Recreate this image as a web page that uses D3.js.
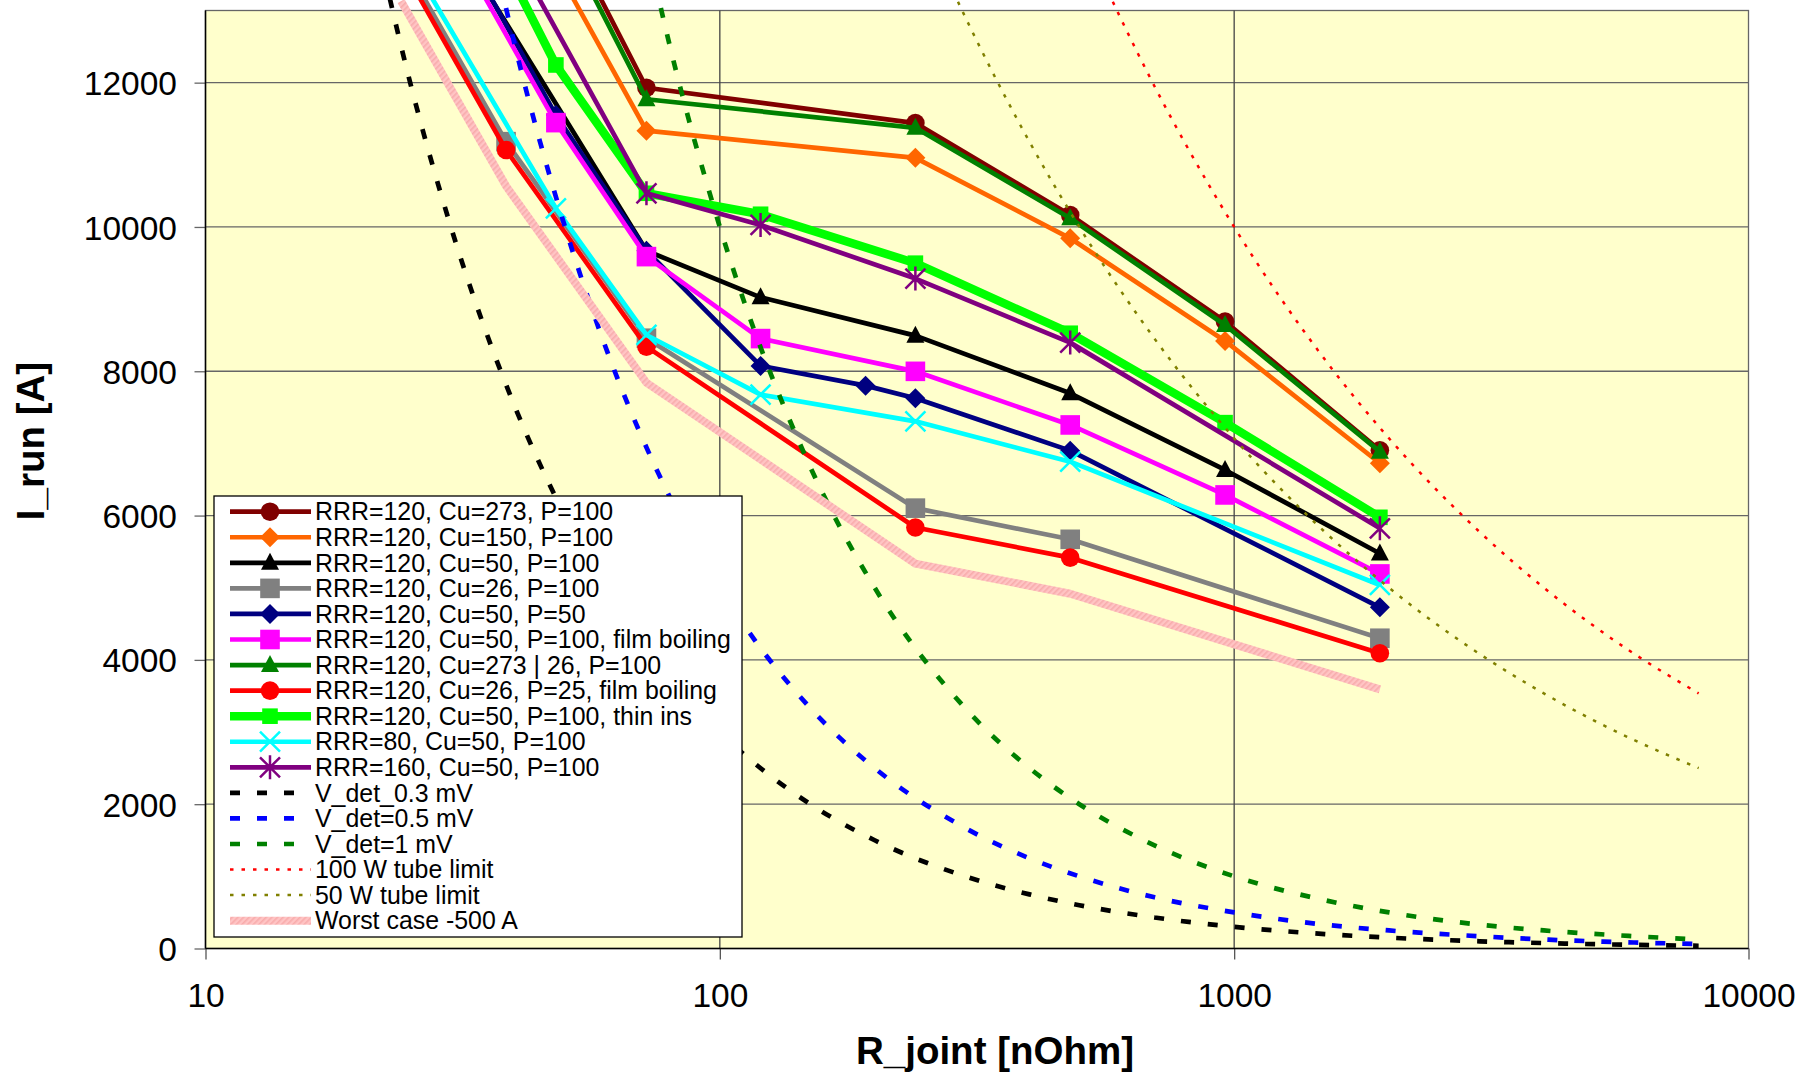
<!DOCTYPE html>
<html>
<head>
<meta charset="utf-8">
<script src="https://d3js.org/d3.v7.min.js"></script>
<style>
  body { margin: 0; background: white; }
  text { font-family: "Liberation Sans", Arial, sans-serif; fill: black; }
</style>
</head>
<body>
<script>
// ticks
const xTicks = [10, 100, 1000, 10000];
const yTicks = [0, 2000, 4000, 6000, 8000, 10000, 12000];

// measured series (R_joint in nOhm, I_run in A) - first point of some is above the top edge
const cu273R = [48, 72, 240, 480, 960, 1920];
const cu273I = [14370, 11930, 11440, 10165, 8690, 6905];
const cu150R = [48, 72, 240, 480, 960, 1920];
const cu150I = [13600, 11335, 10958, 9843, 8420, 6725];
const cu50R = [24, 72, 120, 240, 480, 960, 1920];
const cu50I = [15190, 9670, 9025, 8494, 7695, 6632, 5475];
const cu26R = [24, 38.4, 72, 240, 480, 1920];
const cu26I = [13730, 11182, 8458, 6103, 5671, 4300];
const p50R = [24, 48, 72, 120, 192, 240, 480, 1920];
const p50I = [15430, 11550, 9670, 8074, 7801, 7627, 6900, 4729];
const filmR = [24, 48, 72, 120, 240, 480, 960, 1920];
const filmI = [15240, 11446, 9589, 8453, 7999, 7256, 6286, 5191];
const mixR = [48, 72, 240, 480, 960, 1920];
const mixI = [14220, 11770, 11374, 10120, 8642, 6886];
const p25R = [24, 38.4, 72, 240, 480, 1920];
const p25I = [13630, 11067, 8341, 5835, 5417, 4092];
const thinR = [24, 48, 72, 120, 240, 480, 960, 1920];
const thinI = [16470, 12245, 10467, 10176, 9498, 8527, 7288, 5976];
const rrr80R = [24, 48, 72, 120, 240, 480, 1920];
const rrr80I = [13900, 10259, 8503, 7677, 7306, 6747, 5038];
const rrr160R = [24, 72, 120, 240, 480, 1920];
const rrr160I = [16630, 10467, 10028, 9285, 8397, 5824];
const worstR = [24, 38.4, 72, 240, 480, 1920];
const worstI = [13130, 10567, 7841, 5335, 4917, 3592];

// detection / tube limit curves
const v03R = [20, 25, 30, 40, 50, 60, 80, 100, 150, 200, 300, 400, 500, 700, 1000, 1500, 2000, 3000, 4000, 6000, 8000];
const v03I = [15000, 12000, 10000, 7500, 6000, 5000, 3750, 3000, 2000, 1500, 1000, 750, 600, 430, 300, 200, 150, 100, 75, 50, 38];
const v05R = [30, 40, 50, 60, 80, 100, 150, 200, 300, 400, 500, 700, 1000, 1500, 2000, 3000, 4000, 6000, 8000];
const v05I = [16700, 12500, 10000, 8330, 6250, 5000, 3330, 2500, 1670, 1250, 1000, 710, 500, 330, 250, 170, 125, 83, 63];
const v1R = [60, 80, 100, 150, 200, 300, 400, 500, 700, 1000, 1500, 2000, 3000, 4000, 6000, 8000];
const v1I = [16700, 12500, 10000, 6670, 5000, 3330, 2500, 2000, 1430, 1000, 670, 500, 330, 250, 170, 125];
const w100R = [500, 600, 700, 800, 1000, 1500, 2000, 3000, 4000, 5000, 6000, 8000];
const w100I = [14140, 12910, 11950, 11180, 10000, 8165, 7071, 5774, 5000, 4472, 4082, 3536];
const w50R = [250, 300, 400, 500, 700, 1000, 1500, 2000, 3000, 4000, 5000, 6000, 8000];
const w50I = [14140, 12910, 11180, 10000, 8452, 7071, 5774, 5000, 4082, 3536, 3162, 2887, 2500];

const zip = (a, b) => a.map((v, i) => [v, b[i]]);

const series = [
  {name: "RRR=120, Cu=273, P=100", pts: zip(cu273R, cu273I), color: "#800000", w: 4.7, mark: "circle"},
  {name: "RRR=120, Cu=150, P=100", pts: zip(cu150R, cu150I), color: "#FF6600", w: 4.7, mark: "diamond"},
  {name: "RRR=120, Cu=50, P=100", pts: zip(cu50R, cu50I), color: "#000000", w: 4.7, mark: "triangle"},
  {name: "RRR=120, Cu=26, P=100", pts: zip(cu26R, cu26I), color: "#808080", w: 4.7, mark: "square"},
  {name: "RRR=120, Cu=50, P=50", pts: zip(p50R, p50I), color: "#000080", w: 4.7, mark: "diamond"},
  {name: "RRR=120, Cu=50, P=100, film boiling", pts: zip(filmR, filmI), color: "#FF00FF", w: 4.7, mark: "square"},
  {name: "RRR=120, Cu=273 | 26, P=100", pts: zip(mixR, mixI), color: "#008000", w: 4.7, mark: "triangle"},
  {name: "RRR=120, Cu=26, P=25, film boiling", pts: zip(p25R, p25I), color: "#FF0000", w: 4.7, mark: "circle"},
  {name: "RRR=120, Cu=50, P=100, thin ins", pts: zip(thinR, thinI), color: "#00FF00", w: 8.5, mark: "smallsquare"},
  {name: "RRR=80, Cu=50, P=100", pts: zip(rrr80R, rrr80I), color: "#00FFFF", w: 4.7, mark: "x"},
  {name: "RRR=160, Cu=50, P=100", pts: zip(rrr160R, rrr160I), color: "#800080", w: 4.7, mark: "star"},
  {name: "V_det_0.3 mV", pts: zip(v03R, v03I), color: "#000000", w: 4.7, dash: "10,17", smooth: true},
  {name: "V_det=0.5 mV", pts: zip(v05R, v05I), color: "#0000FF", w: 4.7, dash: "10,17", smooth: true},
  {name: "V_det=1 mV", pts: zip(v1R, v1I), color: "#008000", w: 4.7, dash: "10,17", smooth: true},
  {name: "100 W tube limit", pts: zip(w100R, w100I), color: "#FF0000", w: 2.5, dash: "3.5,8", smooth: true},
  {name: "50 W tube limit", pts: zip(w50R, w50I), color: "#808000", w: 2.5, dash: "3.5,8", smooth: true},
  {name: "Worst case -500 A", pts: zip(worstR, worstI), color: "url(#hatch)", w: 8}
];

const width = 1811, height = 1076;
const plotLeft = 205.5, plotRight = 1748.5, plotTop = 10.5, plotBottom = 948.5;

const svg = d3.select("body").append("svg").attr("width", width).attr("height", height);

const defs = svg.append("defs");
const pat = defs.append("pattern").attr("id", "hatch").attr("width", 4).attr("height", 4)
  .attr("patternUnits", "userSpaceOnUse").attr("patternTransform", "rotate(45)");
pat.append("rect").attr("width", 4).attr("height", 4).attr("fill", "#FFC4C4");
pat.append("rect").attr("width", 1.6).attr("height", 4).attr("fill", "#F8ACAC");
defs.append("clipPath").attr("id", "clip").append("rect")
  .attr("x", plotLeft).attr("y", 0).attr("width", plotRight - plotLeft).attr("height", plotBottom);

const x = d3.scaleLog().domain([10, 10000]).range([plotLeft, plotRight]);
const y = d3.scaleLinear().domain([0, 13000]).range([plotBottom, plotTop]);

// plot area
svg.append("rect").attr("x", plotLeft).attr("y", plotTop).attr("width", plotRight - plotLeft).attr("height", plotBottom - plotTop)
  .attr("fill", "#FFFFCC").attr("stroke", "#666").attr("stroke-width", 1.3);

// grid + axes
svg.append("g").attr("transform", `translate(${plotLeft},0)`)
  .call(d3.axisLeft(y).tickValues(yTicks).tickSize(11).tickFormat(d3.format("d")))
  .call(g => g.select(".domain").remove())
  .call(g => g.selectAll("line").attr("stroke", "#666").attr("stroke-width", 1.3))
  .call(g => g.selectAll("text").attr("font-size", 33.5).attr("x", -28.5).attr("dy", "0.36em"));
svg.append("g").selectAll("line").data(yTicks.slice(1)).enter().append("line")
  .attr("x1", plotLeft).attr("x2", plotRight).attr("y1", d => y(d)).attr("y2", d => y(d))
  .attr("stroke", "#666").attr("stroke-width", 1.3);

svg.append("g").attr("transform", `translate(0,${plotBottom})`)
  .call(d3.axisBottom(x).tickValues(xTicks).tickSize(11).tickFormat(d3.format("d")))
  .call(g => g.select(".domain").remove())
  .call(g => g.selectAll("line").attr("stroke", "#555").attr("stroke-width", 1.3))
  .call(g => g.selectAll("text").attr("font-size", 33.5).attr("y", 35).attr("dy", "0.71em"));
svg.append("g").selectAll("line").data(xTicks.slice(1, 3)).enter().append("line")
  .attr("x1", d => x(d)).attr("x2", d => x(d)).attr("y1", plotTop).attr("y2", plotBottom)
  .attr("stroke", "#444").attr("stroke-width", 1.3);

svg.append("line").attr("x1", plotLeft).attr("x2", plotLeft).attr("y1", plotTop).attr("y2", plotBottom)
  .attr("stroke", "black").attr("stroke-width", 1.5);
svg.append("line").attr("x1", plotLeft).attr("x2", plotRight).attr("y1", plotBottom).attr("y2", plotBottom)
  .attr("stroke", "black").attr("stroke-width", 1.5);

// axis titles
svg.append("text").attr("x", 995).attr("y", 1064).attr("text-anchor", "middle")
  .attr("font-size", 38.5).attr("font-weight", "bold").text("R_joint [nOhm]");
svg.append("text").attr("transform", "translate(44,441) rotate(-90)").attr("text-anchor", "middle")
  .attr("font-size", 38.5).attr("font-weight", "bold").text("I_run [A]");

// marker helper
function marker(g, type, color, cx, cy) {
  if (type === "circle") {
    g.append("circle").attr("cx", cx).attr("cy", cy).attr("r", 9.3).attr("fill", color);
  } else if (type === "square" || type === "smallsquare") {
    const h = type === "square" ? 9.8 : 7.8;
    g.append("rect").attr("x", cx - h).attr("y", cy - h).attr("width", 2 * h).attr("height", 2 * h).attr("fill", color);
  } else if (type === "diamond") {
    g.append("path").attr("d", `M${cx},${cy - 10}L${cx + 10},${cy}L${cx},${cy + 10}L${cx - 10},${cy}Z`).attr("fill", color);
  } else if (type === "triangle") {
    g.append("path").attr("d", `M${cx},${cy - 10}L${cx + 9},${cy + 7}L${cx - 9},${cy + 7}Z`).attr("fill", color);
  } else if (type === "x" || type === "star") {
    const s = 10;
    g.append("path").attr("d", `M${cx - s},${cy - s}L${cx + s},${cy + s}M${cx - s},${cy + s}L${cx + s},${cy - s}` +
      (type === "star" ? `M${cx},${cy - 12}L${cx},${cy + 12}` : ""))
      .attr("stroke", color).attr("stroke-width", 2.5).attr("fill", "none");
  }
}

// series
const plot = svg.append("g").attr("clip-path", "url(#clip)");
series.forEach(s => {
  const line = d3.line().x(d => x(d[0])).y(d => y(d[1]))
    .curve(s.smooth ? d3.curveMonotoneX : d3.curveLinear);
  plot.append("path").datum(s.pts).attr("d", line).attr("fill", "none")
    .attr("stroke", s.color).attr("stroke-width", s.w)
    .attr("stroke-dasharray", s.dash || null)
    .attr("stroke-linejoin", "round");
  if (s.mark) {
    const mg = plot.append("g");
    s.pts.filter(d => d[1] <= 13000).forEach(d => marker(mg, s.mark, s.color, x(d[0]), y(d[1])));
  }
});

// legend
const lg = svg.append("g");
lg.append("rect").attr("x", 214).attr("y", 496).attr("width", 528).attr("height", 441)
  .attr("fill", "white").attr("stroke", "black").attr("stroke-width", 1.3);
series.forEach((s, i) => {
  const cy = 511.7 + i * 25.56;
  lg.append("line").attr("x1", 230).attr("x2", 311).attr("y1", cy).attr("y2", cy)
    .attr("stroke", s.color).attr("stroke-width", s.w)
    .attr("stroke-dasharray", s.dash || null);
  if (s.mark) marker(lg, s.mark, s.color, 270, cy);
  lg.append("text").attr("x", 315).attr("y", cy).attr("dy", "0.35em")
    .attr("font-size", 24.9).text(s.name);
});
</script>
</body>
</html>
